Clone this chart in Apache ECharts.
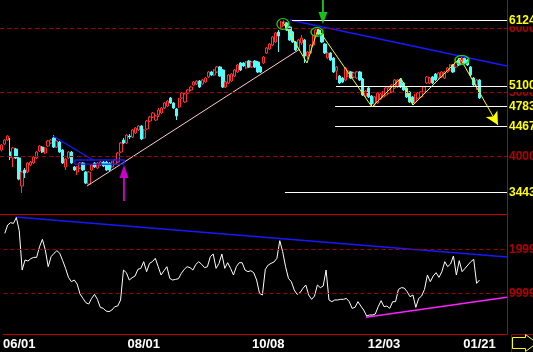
<!DOCTYPE html>
<html><head><meta charset="utf-8">
<script src="https://cdn.jsdelivr.net/npm/echarts@6/dist/echarts.min.js"></script>
<style>html,body{margin:0;padding:0;background:#000;}#c{width:533px;height:352px;}</style>
</head><body><div id="c"></div>
<script>
// ---- data ----
const opens = [4102,4195,4257,4070,3977,4117,3977,3540,3790,3758,
3868,3899,3977,4086,4148,4055,4164,4211,4289,4148,
4226,4102,3836,3977,4070,3836,3758,3821,3899,3758,
3571,3790,3899,3821,3868,3914,3914,3899,3836,3883,
3914,4070,4257,4211,4320,4304,4367,4413,4476,4289,
4429,4554,4616,4569,4647,4678,4756,4787,4912,4834,
4741,4772,4912,4850,4990,5037,5115,5130,5177,5130,
5162,5240,5318,5271,5318,5396,5349,5084,5146,5177,
5255,5318,5458,5458,5380,5489,5396,5489,5473,5396,
5458,5614,5676,5738,5785,5941,6019,6050,6081,6019,
5941,5785,5692,5770,5816,5567,5614,5738,5879,5972,
5910,5754,5536,5614,5536,5333,5255,5224,5193,5255,
5318,5240,5224,5318,5208,4943,5068,4943,4819,4834,
4897,4928,4959,4990,5006,5068,5084,5193,5146,5068,
5006,4928,4850,4912,4928,5006,5146,5146,5240,5286,
5224,5240,5224,5318,5349,5427,5396,5505,5458,5536,
5505,5396,5224,5115,5193];
const closes = [4180,4257,4320,3992,4133,3977,3649,3758,3743,3899,
3914,3992,4070,4164,4070,4133,4242,4257,4148,4242,
4070,3899,3961,4070,3899,3790,3836,3899,3790,3587,
3758,3868,3836,3899,3914,3852,3790,3790,3914,3946,
4055,4211,4211,4335,4304,4413,4445,4476,4273,4413,
4554,4616,4678,4632,4725,4756,4834,4865,4834,4756,
4632,4897,4990,4975,5037,5084,5162,5177,5084,5193,
5224,5318,5271,5349,5396,5255,5084,5162,5271,5286,
5349,5427,5349,5411,5473,5396,5473,5396,5318,5318,
5551,5692,5754,5863,5926,5879,6097,6097,5972,5816,
5785,5660,5816,5848,5567,5629,5738,5879,5972,5910,
5785,5614,5614,5505,5318,5396,5146,5162,5380,5333,
5224,5302,5318,5193,4959,5021,4928,4819,4928,4990,
4975,5006,5068,5068,5115,5193,5193,5084,5037,4928,
4850,4834,4959,4990,5006,5084,5240,5224,5146,5193,
5302,5318,5318,5380,5427,5318,5473,5427,5536,5458,
5427,5271,5115,5193,4912];
const lows = [4080,4180,4245,3946,3836,3960,3630,3431,3665,3740,
3850,3883,3961,4070,4055,4039,4148,4195,4133,4133,
4055,3883,3790,3961,3883,3774,3712,3805,3774,3571,
3556,3774,3821,3805,3852,3836,3774,3774,3821,3868,
3899,4055,4195,4195,4273,4289,4351,4398,4257,4273,
4413,4538,4600,4554,4616,4663,4741,4772,4819,4741,
4569,4756,4897,4834,4975,5021,5099,5115,5068,5115,
5146,5224,5255,5255,5302,5240,5068,5068,5130,5162,
5240,5302,5333,5396,5364,5380,5380,5380,5302,5302,
5442,5598,5660,5723,5770,5629,6004,6035,5957,5801,
5770,5645,5676,5740,5458,5520,5598,5723,5863,5894,
5770,5598,5520,5489,5302,5193,5130,5146,5177,5240,
5208,5224,5208,5177,4943,4928,4912,4772,4772,4819,
4881,4912,4943,4975,4990,5053,5068,5068,5021,4912,
4834,4803,4834,4897,4912,4990,5130,5130,5130,5177,
5208,5224,5208,5302,5333,5302,5380,5411,5442,5442,
5411,5255,5099,5037,4897];
const highs = [4195,4270,4330,4289,4150,4135,3990,3775,3821,3915,
3930,4008,4086,4180,4164,4148,4257,4273,4335,4257,
4242,4117,3977,4086,4086,3852,3852,3914,3914,3774,
3774,3883,3914,3914,3930,3930,3930,3914,3930,3961,
4070,4226,4289,4350,4351,4429,4460,4491,4491,4429,
4569,4632,4694,4647,4756,4772,4850,4881,4928,4850,
4756,4912,5006,4990,5053,5099,5177,5193,5193,5208,
5240,5333,5333,5364,5411,5411,5364,5177,5286,5302,
5364,5442,5473,5473,5489,5505,5489,5505,5489,5411,
5567,5707,5770,5879,5941,5972,6113,6124,6097,6035,
5957,5801,5832,5894,5832,5645,5754,5894,5988,6004,
5926,5770,5629,5629,5551,5411,5271,5240,5396,5349,
5333,5318,5333,5333,5224,5037,5084,4959,4943,5006,
4990,5021,5084,5084,5130,5208,5208,5224,5162,5084,
5021,4943,4975,5006,5021,5099,5255,5240,5255,5302,
5318,5333,5333,5396,5442,5442,5489,5536,5551,5551,
5520,5411,5240,5208,5208];
const indicator = [23630,25520,26050,25900,27200,24230,15290,17570,17340,17870,
18170,18170,20600,22270,19850,16050,18330,19080,19690,19080,
17420,15670,13630,12640,13020,12110,9840,8850,7870,7570,
8850,9760,8630,6810,6580,5970,5820,6200,6960,7110,
8480,15290,14690,13020,13550,13930,15450,15670,17190,14920,
16810,17190,17950,16050,14160,15140,16050,13400,13020,13170,
13320,14540,15450,16050,15830,15290,16580,17190,16580,15830,
16050,18330,18930,15670,16810,18930,15670,16960,15670,14160,
16050,16960,16960,15290,14920,15140,14690,13020,9990,9610,
15450,16430,16810,17110,17950,21960,19460,16050,13400,12640,
10750,9760,10140,11130,11890,9610,8630,9380,11890,11280,
11660,15290,8480,8100,8480,8480,8630,8630,8850,8100,
6580,6810,8100,7110,6200,4840,5070,5070,5290,6960,
8320,6960,7110,6580,8100,8100,10900,11280,11200,10370,
9230,9610,6810,8850,9380,10900,14160,12640,13930,14690,
13630,14920,17190,16050,16660,18480,14160,17420,14920,15670,
16430,17190,17720,12260,13020];

const slotCount = 174;                       // trading-day slots on the x axis
const categories = Array.from({length: slotCount}, (_, i) => String(i));
const tickIndex = [5, 48, 91, 131, 164];
const tickText = ['06/01', '08/01', '10/08', '12/03', '01/21'];

const gridLevels = [6000, 5000, 4000];           // dashed dark-red levels
const keyLevels = [6124, 5100, 4783, 4467, 3443]; // white levels (yellow labels)
const keyLevelStart = [99.7, 114.8, 114.5, 114.5, 97.3];
const indLevels = [19999, 9999];

// annotation lines (x = day slot, y = price)
const blueLeft = [[17.69, 4320], [31.41, 3946]];
const blueBox = [[25.24, 3946], [42.05, 3946], [42.05, 3883], [25.24, 3883], [25.24, 3946]];
const pinkTrend = [[29.35, 3540], [102.45, 5676]];
const blueTop = [[99.0, 6128], [173.5, 5411]];
const yellowZig = [[96.61, 6097], [104.85, 5458], [108.63, 5988], [127.16, 4772], [137.1, 5224], [141.23, 4803], [157.36, 5536]];
const yellowTip = [170.4, 4491];
const magentaStem = [[42.05, 3665], [42.05, 3306]];
const magentaHead = [42.05, 3766];
const greenStem = [[110.34, 6440], [110.34, 6253]];
const greenHead = [110.34, 6159];
const circles = [[96.61, 6066], [108.29, 5941], [158.04, 5505]];
const circleSizes = [[12, 11], [12, 9], [14, 9]];
// lower panel lines (x = day slot, y = indicator)
const indBlue = [[3.62, 27342], [173.5, 18250]];
const indMagenta = [[124.75, 4544], [173.5, 9090]];

const FONT = "'Liberation Sans',Arial,sans-serif";
const RED_BORDER = '#c00000';

const candleData = opens.map((o, i) => [i, o, closes[i], lows[i], highs[i]]);
const indData = indicator.map((v, i) => [i, v]);

const chart = echarts.init(document.getElementById('c'), null, {renderer: 'canvas'});
const hiddenAxis = {axisLabel: {show: false}, axisTick: {show: false}, splitLine: {show: false}};
chart.setOption({
  backgroundColor: '#000000',
  animation: false,
  grid: [
    {left: 0, top: 0, width: 507, height: 214},
    {left: 0, top: 215, width: 507, height: 119}
  ],
  xAxis: [
    Object.assign({type: 'value', gridIndex: 0, min: -0.5, max: 173.5, position: 'bottom',
      axisLine: {show: true, onZero: false, lineStyle: {color: RED_BORDER, width: 1}}}, hiddenAxis),
    Object.assign({type: 'value', gridIndex: 1, min: -0.5, max: 173.5, position: 'top',
      axisLine: {show: false, onZero: false}}, hiddenAxis),
    {type: 'category', gridIndex: 1, data: categories, boundaryGap: true, position: 'bottom',
      axisLine: {show: true, onZero: false, lineStyle: {color: RED_BORDER, width: 1}},
      axisTick: {show: false}, splitLine: {show: false},
      axisLabel: {show: true, color: '#ffffff', fontFamily: FONT, fontSize: 13, fontWeight: 'bold', margin: 4,
        interval: (idx) => tickIndex.indexOf(idx) >= 0,
        formatter: (val, idx) => { const k = tickIndex.indexOf(idx); return k >= 0 ? tickText[k] : ''; }}}
  ],
  yAxis: [
    Object.assign({type: 'value', gridIndex: 0, min: 3104, max: 6440, position: 'right',
      axisLine: {show: true, onZero: false, lineStyle: {color: RED_BORDER, width: 1}}}, hiddenAxis),
    Object.assign({type: 'value', gridIndex: 1, min: 750, max: 27800, position: 'right',
      axisLine: {show: true, onZero: false, lineStyle: {color: RED_BORDER, width: 1}}}, hiddenAxis)
  ],
  series: [
    {type: 'line', name: 'gridLevels', xAxisIndex: 0, yAxisIndex: 0, data: [], z: 1,
      markLine: {silent: true, symbol: ['none', 'none'], animation: false,
        lineStyle: {color: '#a00000', type: [4, 3], width: 1},
        label: {position: 'end', distance: 2, color: '#b00000', fontFamily: FONT, fontSize: 12, fontWeight: 'bold', formatter: p => p.name},
        data: gridLevels.map(v => ({yAxis: v, name: String(v)}))}},
    {type: 'candlestick', name: 'price', xAxisIndex: 0, yAxisIndex: 0, data: candleData, z: 3,
      barWidth: 2.8,
      itemStyle: {color: '#000000', color0: '#54fcfc', borderColor: '#ff3232', borderColor0: '#54fcfc', borderWidth: 1}},
    {type: 'line', name: 'pink', xAxisIndex: 0, yAxisIndex: 0, data: pinkTrend, z: 4, symbol: 'none',
      lineStyle: {color: '#ffc8d4', width: 1}},
    {type: 'line', name: 'blueLeft', xAxisIndex: 0, yAxisIndex: 0, data: blueLeft, z: 4, symbol: 'none',
      lineStyle: {color: '#1818ff', width: 1.3}},
    {type: 'line', name: 'blueBox', xAxisIndex: 0, yAxisIndex: 0, data: blueBox, z: 4, symbol: 'none',
      lineStyle: {color: '#1818ff', width: 1.3}},
    {type: 'line', name: 'blueTop', xAxisIndex: 0, yAxisIndex: 0, data: blueTop, z: 4, symbol: 'none',
      lineStyle: {color: '#1818ff', width: 1.6}},
    {type: 'line', name: 'yellow', xAxisIndex: 0, yAxisIndex: 0, data: yellowZig, z: 5, symbol: 'none',
      lineStyle: {color: '#ffff00', width: 1},
      markLine: {silent: true, symbol: ['none', 'arrow'], symbolSize: [10, 13], animation: false,
        lineStyle: {color: '#ffff00', width: 1, type: 'solid'}, label: {show: false},
        data: [[{coord: yellowZig[yellowZig.length - 1]}, {coord: yellowTip}]]}},
    {type: 'line', name: 'keyLevels', xAxisIndex: 0, yAxisIndex: 0, data: [], z: 6,
      markLine: {silent: true, symbol: ['none', 'none'], animation: false,
        lineStyle: {color: '#ffffff', type: 'solid', width: 1},
        label: {position: 'end', distance: 1, color: '#ffff00', fontFamily: FONT, fontSize: 12, fontWeight: 'bold',
          backgroundColor: '#000000', padding: [0, 1, 0, 1], formatter: p => p.name},
        data: keyLevels.map((v, k) => [{coord: [keyLevelStart[k], v], name: String(v)}, {coord: [173.5, v]}])}},
    {type: 'line', name: 'magentaStem', xAxisIndex: 0, yAxisIndex: 0, data: magentaStem, z: 6, symbol: 'none',
      lineStyle: {color: '#ff00ff', width: 1.5}},
    {type: 'line', name: 'greenStem', xAxisIndex: 0, yAxisIndex: 0, data: greenStem, z: 6, symbol: 'none',
      lineStyle: {color: '#20f020', width: 1.5}},
    {type: 'scatter', name: 'heads', xAxisIndex: 0, yAxisIndex: 0, z: 7, silent: true,
      data: [
        {value: magentaHead, symbol: 'triangle', symbolSize: [9, 13], itemStyle: {color: '#ff00ff'}},
        {value: greenHead, symbol: 'triangle', symbolRotate: 180, symbolSize: [9, 12], itemStyle: {color: '#20f020'}}
      ]},
    {type: 'scatter', name: 'circles', xAxisIndex: 0, yAxisIndex: 0, z: 8, silent: true,
      data: circles.map((c, k) => ({value: c, symbol: 'circle', symbolSize: circleSizes[k]})),
      itemStyle: {color: 'rgba(0,0,0,0)', borderColor: '#10e010', borderWidth: 1.2, borderType: 'solid', opacity: 1}},
    // lower panel
    {type: 'line', name: 'indLevels', xAxisIndex: 1, yAxisIndex: 1, data: [], z: 1,
      markLine: {silent: true, symbol: ['none', 'none'], animation: false,
        lineStyle: {color: '#a00000', type: [4, 3], width: 1},
        label: {position: 'end', distance: 2, color: '#b00000', fontFamily: FONT, fontSize: 12, fontWeight: 'bold', formatter: p => p.name},
        data: indLevels.map(v => ({yAxis: v, name: String(v)}))}},
    {type: 'line', name: 'indBlue', xAxisIndex: 1, yAxisIndex: 1, data: indBlue, z: 3, symbol: 'none',
      lineStyle: {color: '#1818ff', width: 1.6}},
    {type: 'line', name: 'indMagenta', xAxisIndex: 1, yAxisIndex: 1, data: indMagenta, z: 3, symbol: 'none',
      lineStyle: {color: '#ff20ff', width: 1.5}},
    {type: 'line', name: 'indicator', xAxisIndex: 1, yAxisIndex: 1, data: indData, z: 4, symbol: 'none',
      lineStyle: {color: '#ffffff', width: 1}}
  ],
  graphic: [
    {type: 'rect', shape: {x: 511.5, y: 334.5, width: 25, height: 20}, style: {fill: 'none', stroke: '#a00000', lineWidth: 1}, silent: true},
    {type: 'polygon', shape: {points: [[512.5, 337.5], [525.5, 337.5], [525.5, 334.5], [537, 343], [525.5, 351.5], [525.5, 348.5], [512.5, 348.5]]},
      style: {fill: 'none', stroke: '#ffff00', lineWidth: 1}, silent: true}
  ]
});
</script>
</body></html>
